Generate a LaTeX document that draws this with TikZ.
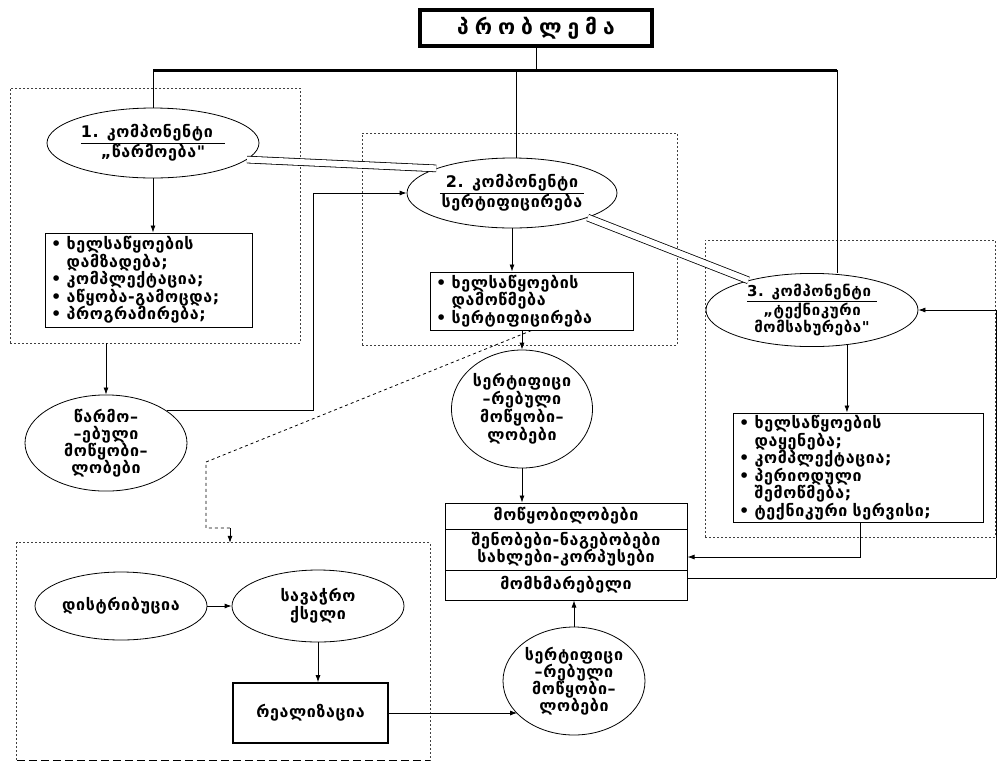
\documentclass[tikz,border=0pt]{standalone}
\usepackage{fontspec}
\setmainfont{DejaVu Sans}
\newfontfamily\geo[LetterSpace=4]{DejaVu Sans Bold}
\usetikzlibrary{shapes.geometric,arrows.meta,calc}
\begin{document}
\begin{tikzpicture}[x=1pt,y=-1pt,
  every node/.style={font=\geo\fontsize{16}{18}\selectfont},
  ell/.style={draw, ellipse, line width=0.8pt, inner sep=0pt, align=center},
  lstbox/.style={draw, rectangle, line width=1pt, inner sep=0pt, inner xsep=6pt, align=left},
  rowbox/.style={draw, rectangle, line width=1pt, inner sep=0pt, align=center, minimum width=242},
  grp/.style={draw=black!75, line width=0.9pt, dash pattern=on 2pt off 2pt},
  arr/.style={-{Latex[length=7pt,width=5pt]}, line width=0.8pt},
  ln/.style={line width=0.8pt},
  dbl/.style={double, double distance=6pt, line width=0.8pt},
]
\useasboundingbox (0,0) rectangle (1001,764);
\fill[white] (0,0) rectangle (1001,764);

% groups
\node[grp, minimum width=290, minimum height=255] (g1) at (155,215.5) {};
\node[grp, minimum width=315, minimum height=212] (g2) at (519.5,239) {};
\node[grp, minimum width=290, minimum height=297] (g3) at (850,388.5) {};
\node[minimum width=413, minimum height=217, inner sep=0pt] (g4) at (223.5,651.5) {};
\draw[grp] (g4.south west) |- (g4.north east) -- (g4.south east);
\draw[line width=1pt, dash pattern=on 8pt off 4pt] (g4.south west) -- (g4.south east);

% title
\node[draw, line width=3.5pt, minimum width=232, minimum height=36, inner sep=0pt,
      font=\geo\fontsize{21}{22}\selectfont] (title) at (536,28) {პ\hspace{6pt}რ\hspace{6pt}ო\hspace{6pt}ბ\hspace{6pt}ლ\hspace{6pt}ე\hspace{6pt}მ\hspace{6pt}ა};
\coordinate (barL) at (153,70);
\coordinate (barM) at (516,70);
\coordinate (barR) at (837,70);
\draw[line width=3pt] (barL) -- (barR);
\draw[ln] (title.south) -- (title.south |- barL);

% ellipses of components
\node[ell, minimum width=212, minimum height=70] (e1) at (153,143)
  {\underline{1. კომპონენტი\ \ }\\„წარმოება"};
\node[ell, minimum width=210, minimum height=70] (e2) at (512,193)
  {\underline{\ 2. კომპონენტი\ }\\სერტიფიცირება};
\node[ell, minimum width=212, minimum height=70, font=\geo\fontsize{15}{15.5}\selectfont] (e3) at (812,310)
  {\underline{3. კომპონენტი\ }\\„ტექნიკური\\მომსახურება"};

\draw[ln] (barL) -- (e1.north);
\draw[ln] (barM) -- (barM |- e2.north);
\draw[ln] (barR) -- (barR |- e3.north);

% list boxes
\node[lstbox, minimum width=207, minimum height=94, text width=195, font=\geo\fontsize{16}{17.5}\selectfont] (b1) at (148.5,280)
  {• ხელსაწყოების\\\hphantom{• }დამზადება;\\• კომპლექტაცია;\\• აწყობა-გამოცდა;\\• პროგრამირება;};
\node[lstbox, minimum width=203, minimum height=58, text width=191, font=\geo\fontsize{16}{17.5}\selectfont] (b2) at (531.5,301)
  {• ხელსაწყოების\\\hphantom{• }დამოწმება\\• სერტიფიცირება};
\node[lstbox, minimum width=250, minimum height=109, text width=238, font=\geo\fontsize{16}{17.5}\selectfont] (b3) at (858,467.5)
  {• ხელსაწყოების\\\hphantom{• }დაყენება;\\• კომპლექტაცია;\\• პერიოდული\\\hphantom{• }შემოწმება;\\• ტექნიკური სერვისი;};

% circles
\node[ell, minimum width=162, minimum height=96, font=\geo\fontsize{16}{17}\selectfont] (c1) at (106,443)
  {წარმო–\\–ებული\\მოწყობი–\\ლობები};
\node[ell, minimum width=141, minimum height=118, font=\geo\fontsize{16}{18}\selectfont] (c2) at (522,409)
  {სერტიფიცი\\–რებული\\მოწყობი–\\ლობები};
\node[ell, minimum width=142, minimum height=108, font=\geo\fontsize{16}{17}\selectfont] (c3) at (574,681)
  {სერტიფიცი\\–რებული\\მოწყობი–\\ლობები};

% table
\node[rowbox, minimum height=26] (t1) at (566,516) {მოწყობილობები};
\node[rowbox, minimum height=41, font=\geo\fontsize{16}{17}\selectfont] (t2) at (566,549.5) {შენობები-ნაგებობები\\სახლები-კორპუსები};
\node[rowbox, minimum height=30] (t3) at (566,585) {მომხმარებელი};

% bottom group
\node[ell, minimum width=172, minimum height=68] (e4) at (121,606) {დისტრიბუცია};
\node[ell, minimum width=172, minimum height=72] (e5) at (318,606) {სავაჭრო\\ქსელი};
\node[draw, line width=1.6pt, minimum width=155, minimum height=60, inner sep=0pt] (r) at (310.5,713) {რეალიზაცია};

% connectors
\draw[dbl] (e1.-10) -- (e2.162);
\draw[dbl] (e2.-18) -- (e3.155);
\draw[arr] (e1.south) -- (e1.south |- b1.north);
\draw[arr] (g1.south -| c1.north) -- (c1.north);
\coordinate (k1) at (313,193);
\draw[arr] (c1.28) -| (k1) -- (e2.west);
\draw[arr] (e2.south) -- (e2.south |- b2.north);
\draw[arr] (b2.south -| c2.north) -- (c2.north);
\draw[arr] (c2.south) -- (c2.south |- t1.north);
\draw[arr] (e3.-45) -- (e3.-45 |- b3.north);
\coordinate (k4) at (860,557);
\draw[arr] (b3.south -| k4) -- (k4) -- (k4 -| t2.east);
\coordinate (fb) at (996,578);
\draw[ln] (t3.east |- fb) -- (fb);
\draw[arr] (fb) |- (e3.east);
\draw[arr] (c3.north) -- (c3.north |- t3.south);
\draw[arr] (r.east) -- (r.east -| c3.-150);
\draw[arr] (e4.east) -- (e5.west);
\draw[arr] (e5.south) -- (e5.south |- r.north);
\coordinate (k2) at (206,462);
\coordinate (k3) at (206,528);
\coordinate (k5) at (230,528);
\draw[ln, dashed] (b2.south) -- (k2) -- (k3) -- (k5);
\draw[arr] (k5) -- (k5 |- g4.north);
\end{tikzpicture}
\end{document}
